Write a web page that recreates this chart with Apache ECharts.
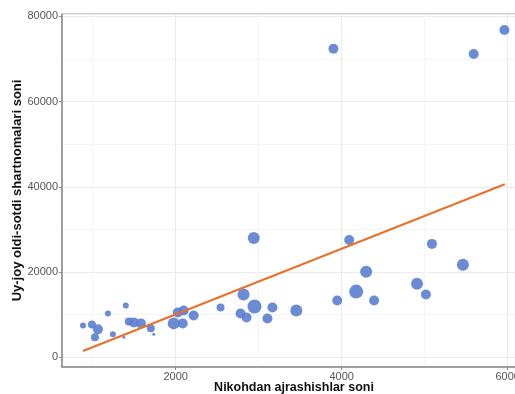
<!DOCTYPE html>
<html>
<head>
<meta charset="utf-8">
<script src="https://cdn.jsdelivr.net/npm/echarts@6/dist/echarts.min.js"></script>
<style>html,body{margin:0;padding:0;background:#fff}#c{width:515px;height:394px}</style>
</head>
<body>
<div id="c"></div>
<script>
var xTitle = "Nikohdan ajrashishlar soni";
var yTitle = "Uy-joy oldi-sotdi shartnomalari soni";
var xValues = [3900,5590,5960,2940,4090,5087,5460,4294,4907,5014,4174,4390,3946,3453,2817,2949,3165,3105,2781,2853,2540,2216,1976,2084,2024,2096,883,991,1063,1027,1183,1399,1243,1375,1435,1495,1580,1700,1736];
var yValues = [72400,71200,76800,28000,27500,26600,21700,20070,17270,14700,15400,13300,13300,10970,14700,11900,11670,9100,10270,9340,11670,9800,7940,7940,10500,10970,7470,7700,6540,4670,10270,12140,5370,4670,8400,8170,7940,6770,5370];
var weights = [5,5,5,6,5,5,6,6,6,5,7,5,5,6,6,7,5,5,5,5,4,5,6,5,5,5,3,4,5,4,3,3,3,1.5,4,5,5,4,1.5];
var trendX = [883, 5964];
var trendY = [1450, 40600];
var yTickStep = 20000;
var xTickStep = 2000;

var points = xValues.map(function(x,i){return [x, yValues[i], weights[i]];});
var trend = trendX.map(function(x,i){return [x, trendY[i]];});

var chart = echarts.init(document.getElementById('c'), null, {renderer:'canvas'});
chart.setOption({
  animation:false,
  backgroundColor:'#fff',
  grid:{left:62, top:14, width:464, height:353, outerBoundsMode:'none', containLabel:false,
        show:true, borderColor:'#9a9a9a', borderWidth:1, backgroundColor:'#fff'},
  xAxis:{
    type:'value', min:630, max:6220, minInterval:xTickStep, maxInterval:xTickStep,
    name:xTitle, nameLocation:'middle', nameGap:14, nameMoveOverlap:false,
    nameTextStyle:{fontFamily:'Liberation Sans', fontWeight:'bold', fontSize:12.5, color:'#111'},
    axisLine:{show:true, onZero:false, lineStyle:{color:'#8a8a8a', width:1.5}},
    axisTick:{show:true, length:3, lineStyle:{color:'#8a8a8a'}},
    axisLabel:{fontFamily:'Liberation Sans', fontSize:11, color:'#555', margin:4, showMinLabel:false, showMaxLabel:false,
               formatter:function(v){return String(v);}},
    splitLine:{show:true, lineStyle:{color:'#ebebeb', width:1}},
    minorTick:{show:false, splitNumber:2},
    minorSplitLine:{show:true, lineStyle:{color:'#f5f5f5', width:1}}
  },
  yAxis:{
    type:'value', min:-2300, max:80570, minInterval:yTickStep, maxInterval:yTickStep,
    name:yTitle, nameLocation:'middle', nameGap:38, nameRotate:90, nameMoveOverlap:false,
    nameTextStyle:{fontFamily:'Liberation Sans', fontWeight:'bold', fontSize:13, color:'#111'},
    axisLine:{show:true, onZero:false, lineStyle:{color:'#8a8a8a', width:1.5}},
    axisTick:{show:true, length:3, lineStyle:{color:'#8a8a8a'}},
    axisLabel:{fontFamily:'Liberation Sans', fontSize:11, color:'#555', margin:4, showMinLabel:false, showMaxLabel:false,
               formatter:function(v){return String(v);}},
    splitLine:{show:true, lineStyle:{color:'#ebebeb', width:1}},
    minorTick:{show:false, splitNumber:2},
    minorSplitLine:{show:true, lineStyle:{color:'#f5f5f5', width:1}}
  },
  series:[
    {type:'scatter', data:points, symbolSize:function(v){return v[2]*2;},
     itemStyle:{color:'#5b80cf', opacity:0.9}, z:2},
    {type:'line', data:trend, showSymbol:false, symbol:'none',
     lineStyle:{color:'#e8702c', width:2}, z:3}
  ]
});
</script>
</body>
</html>
